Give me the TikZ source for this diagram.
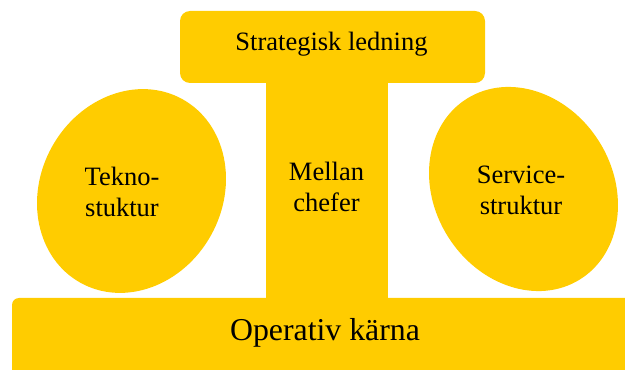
\documentclass[tikz,border=0pt]{standalone}
\usepackage{fontspec}
\setmainfont{Liberation Serif}
\newfontfamily\labelfont{Liberation Serif}
\definecolor{gold}{HTML}{FFCC00}
\begin{document}
\begin{tikzpicture}[x=1pt,y=1pt,
  block/.style={fill=gold},
  label/.style={inner sep=0pt,align=center,font=\labelfont\fontsize{26.5}{31}\selectfont},
  biglabel/.style={inner sep=0pt,font=\labelfont\fontsize{31.8}{36}\selectfont}]
  \useasboundingbox (0,0) rectangle (625,370);
  \clip (0,0) rectangle (625,370);
  % strategic apex, middle line and operating core
  \fill[block,rounded corners=10pt] (180,287) rectangle (485,359);
  \fill[block] (266,70) rectangle (388,290);
  \fill[block,rounded corners=7pt] (12,-20) rectangle (645,72);
  % support staff and technostructure
  \fill[block,rotate around={-29:(131.5,179)}] (131.5,179) ellipse [x radius=91, y radius=105];
  \fill[block,rotate around={32:(523.5,181)}] (523.5,181) ellipse [x radius=89.3, y radius=106.6];
  % labels
  \node[label] (apex) at (331.5,326) {Strategisk ledning};
  \node[label] (middle) at (326.5,183.5) {Mellan\\chefer};
  \node[label] (techno) at (122,178) {Tekno-\\stuktur};
  \node[label] (support) at (521,180) {Service-\\struktur};
  \node[biglabel] (core) at (325,37.4) {Operativ kärna};
\end{tikzpicture}
\end{document}
